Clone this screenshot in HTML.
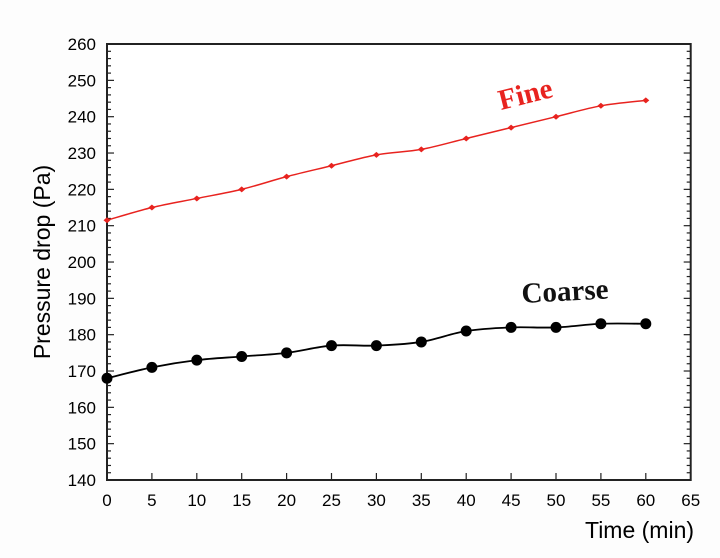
<!DOCTYPE html>
<html><head><meta charset="utf-8"><style>body{margin:0;background:#fff}svg{display:block}</style></head>
<body>
<svg id="s" width="720" height="558" xmlns="http://www.w3.org/2000/svg" font-family="Liberation Sans, sans-serif">
<rect width="720" height="558" fill="#fdfdfd"/>
<g id="g"></g>
<text x="501" y="110" font-family="Liberation Serif, serif" font-weight="bold" font-size="29" fill="#e8231f" transform="rotate(-14 501 110)">Fine</text>
<text x="522" y="303" font-family="Liberation Serif, serif" font-weight="bold" font-size="29" fill="#111" transform="rotate(-3 522 303)">Coarse</text>
<text x="585" y="538" font-size="23" fill="#000">Time (min)</text>
<text transform="translate(50,262) rotate(-90)" text-anchor="middle" font-size="23" fill="#000">Pressure drop (Pa)</text>
</svg>
<script>
const X=t=>107+t*8.98, Y=v=>480-(v-140)*3.633;
let h='';
const L=107,R=690.7,T=44,B=480;
h+=`<rect x="${L}" y="${T}" width="${R-L}" height="${B-T}" fill="#fff" stroke="#222" stroke-width="2"/>`;
for(let v=140;v<=260;v+=2){const y=Y(v);const maj=v%10==0;
h+=`<line x1="${L}" x2="${L+(maj?7:4)}" y1="${y}" y2="${y}" stroke="#222" stroke-width="1.2"/>`;
h+=`<line x1="${R}" x2="${R-(maj?7:4)}" y1="${y}" y2="${y}" stroke="#222" stroke-width="1.2"/>`;
if(maj)h+=`<text x="96" y="${y+6}" text-anchor="end" font-size="17">${v}</text>`;}
for(let t=0;t<=65;t+=5){const x=X(t);
h+=`<line x1="${x}" x2="${x}" y1="${B}" y2="${B-7}" stroke="#222" stroke-width="1.2"/>`;
h+=`<text x="${x}" y="506" text-anchor="middle" font-size="17">${t}</text>`;}
function curve(d){const p=d.map((v,i)=>[X(i*5),Y(v)]);let s=`M${p[0]}`;
for(let i=0;i<p.length-1;i++){const p0=p[i-1]||p[i],p1=p[i],p2=p[i+1],p3=p[i+2]||p2;
s+=` C${p1[0]+(p2[0]-p0[0])/6},${p1[1]+(p2[1]-p0[1])/6} ${p2[0]-(p3[0]-p1[0])/6},${p2[1]-(p3[1]-p1[1])/6} ${p2[0]},${p2[1]}`;}return [s,p];}
const f=[211.5,215,217.5,220,223.5,226.5,229.5,231,234,237,240,243,244.5];
const c=[168,171,173,174,175,177,177,178,181,182,182,183,183];
let [fs,fp]=curve(f);h+=`<path d="${fs}" fill="none" stroke="#e8231f" stroke-width="1.5"/>`;
fp.forEach(p=>h+=`<path d="M${p[0]-3.5},${p[1]}L${p[0]},${p[1]-3}L${p[0]+3.5},${p[1]}L${p[0]},${p[1]+3}Z" fill="#e8231f"/>`);
let [cs,cp]=curve(c);h+=`<path d="${cs}" fill="none" stroke="#000" stroke-width="1.8"/>`;
cp.forEach(p=>h+=`<circle cx="${p[0]}" cy="${p[1]}" r="5.5" fill="#000"/>`);
document.getElementById('g').innerHTML=h;
</script>
</body></html>
